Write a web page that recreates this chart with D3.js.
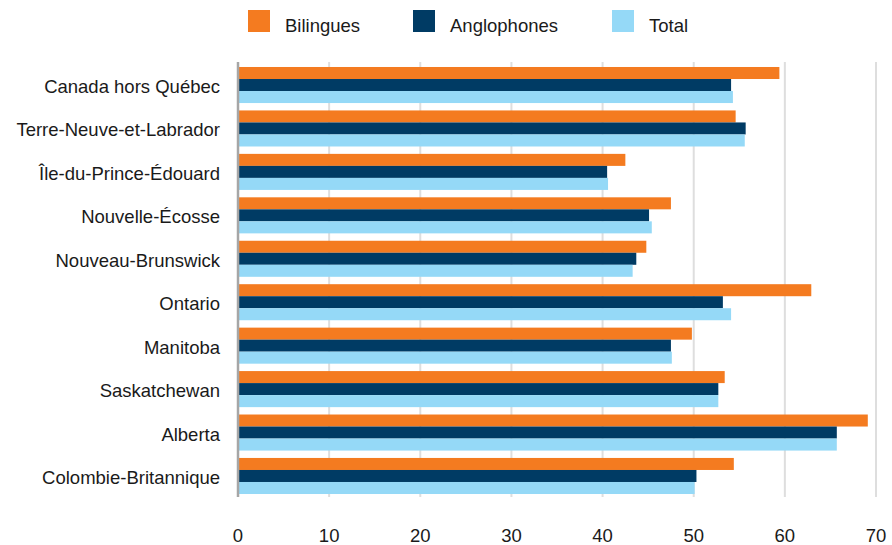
<!DOCTYPE html>
<html>
<head>
<meta charset="utf-8">
<script src="https://cdn.jsdelivr.net/npm/d3@7"></script>
<style>
  html, body { margin: 0; padding: 0; background: #fff; }
  svg { display: block; font-family: "Liberation Sans", Arial, Helvetica, sans-serif; }
</style>
</head>
<body>
<svg id="chart" width="892" height="545"></svg>
<script>
const categories = [
  "Canada hors Québec",
  "Terre-Neuve-et-Labrador",
  "Île-du-Prince-Édouard",
  "Nouvelle-Écosse",
  "Nouveau-Brunswick",
  "Ontario",
  "Manitoba",
  "Saskatchewan",
  "Alberta",
  "Colombie-Britannique"
];
const seriesNames = ["Bilingues", "Anglophones", "Total"];
const bilingues   = [59.4, 54.6, 42.5, 47.5, 44.8, 62.9, 49.8, 53.4, 69.1, 54.4];
const anglophones = [54.1, 55.7, 40.5, 45.1, 43.7, 53.2, 47.5, 52.7, 65.7, 50.3];
const total       = [54.3, 55.6, 40.6, 45.4, 43.3, 54.1, 47.6, 52.7, 65.7, 50.1];
const xTicks = [0, 10, 20, 30, 40, 50, 60, 70];

const colors = ["#f47b20", "#003b64", "#95d9f7"];
const seriesValues = [bilingues, anglophones, total];

const svg = d3.select("#chart");
const plotLeft = 238, plotRight = 876, plotTop = 63.3, plotBottom = 497.7;
const fontSize = 18.5;

const x = d3.scaleLinear().domain([0, 70]).range([plotLeft, plotRight]);
const y = d3.scaleBand().domain(categories).range([plotTop, plotBottom])
  .paddingInner(0.17).paddingOuter(0.085);
const ySub = d3.scaleBand().domain(seriesNames).range([0, y.bandwidth()]);

// vertical gridlines
svg.append("g")
  .selectAll("line")
  .data(xTicks.filter(d => d > 0))
  .join("line")
  .attr("x1", d => x(d)).attr("x2", d => x(d))
  .attr("y1", 62).attr("y2", 497)
  .attr("stroke", "#dedede").attr("stroke-width", 2);

// bars
const groups = svg.append("g")
  .selectAll("g")
  .data(categories)
  .join("g")
  .attr("transform", d => `translate(0,${y(d)})`);

groups.selectAll("rect")
  .data((c, i) => seriesNames.map((s, j) => ({ s, v: seriesValues[j][i], j })))
  .join("rect")
  .attr("x", x(0))
  .attr("y", d => ySub(d.s))
  .attr("width", d => x(d.v) - x(0))
  .attr("height", ySub.bandwidth())
  .attr("fill", d => colors[d.j]);

// left axis line
svg.append("line")
  .attr("x1", x(0)).attr("x2", x(0))
  .attr("y1", 62).attr("y2", 497)
  .attr("stroke", "#a6a6a6").attr("stroke-width", 2.5);

// category labels
svg.append("g")
  .selectAll("text")
  .data(categories)
  .join("text")
  .attr("x", 220)
  .attr("y", d => y(d) + y.bandwidth() / 2 + 1.5)
  .attr("dy", "0.35em")
  .attr("text-anchor", "end")
  .attr("font-size", fontSize)
  .attr("fill", "#1a1a1a")
  .text(d => d);

// x tick labels
svg.append("g")
  .selectAll("text")
  .data(xTicks)
  .join("text")
  .attr("x", d => x(d))
  .attr("y", 541.5)
  .attr("text-anchor", "middle")
  .attr("font-size", fontSize)
  .attr("fill", "#1a1a1a")
  .text(d => d);

// legend
const legendX = [248, 413, 612];
const legend = svg.append("g")
  .selectAll("g")
  .data(seriesNames)
  .join("g")
  .attr("transform", (d, i) => `translate(${legendX[i]},10)`);
legend.append("rect")
  .attr("width", 22).attr("height", 22)
  .attr("fill", (d, i) => colors[i]);
legend.append("text")
  .attr("x", 37).attr("y", 21.5)
  .attr("font-size", fontSize)
  .attr("fill", "#1a1a1a")
  .text(d => d);
</script>
</body>
</html>
